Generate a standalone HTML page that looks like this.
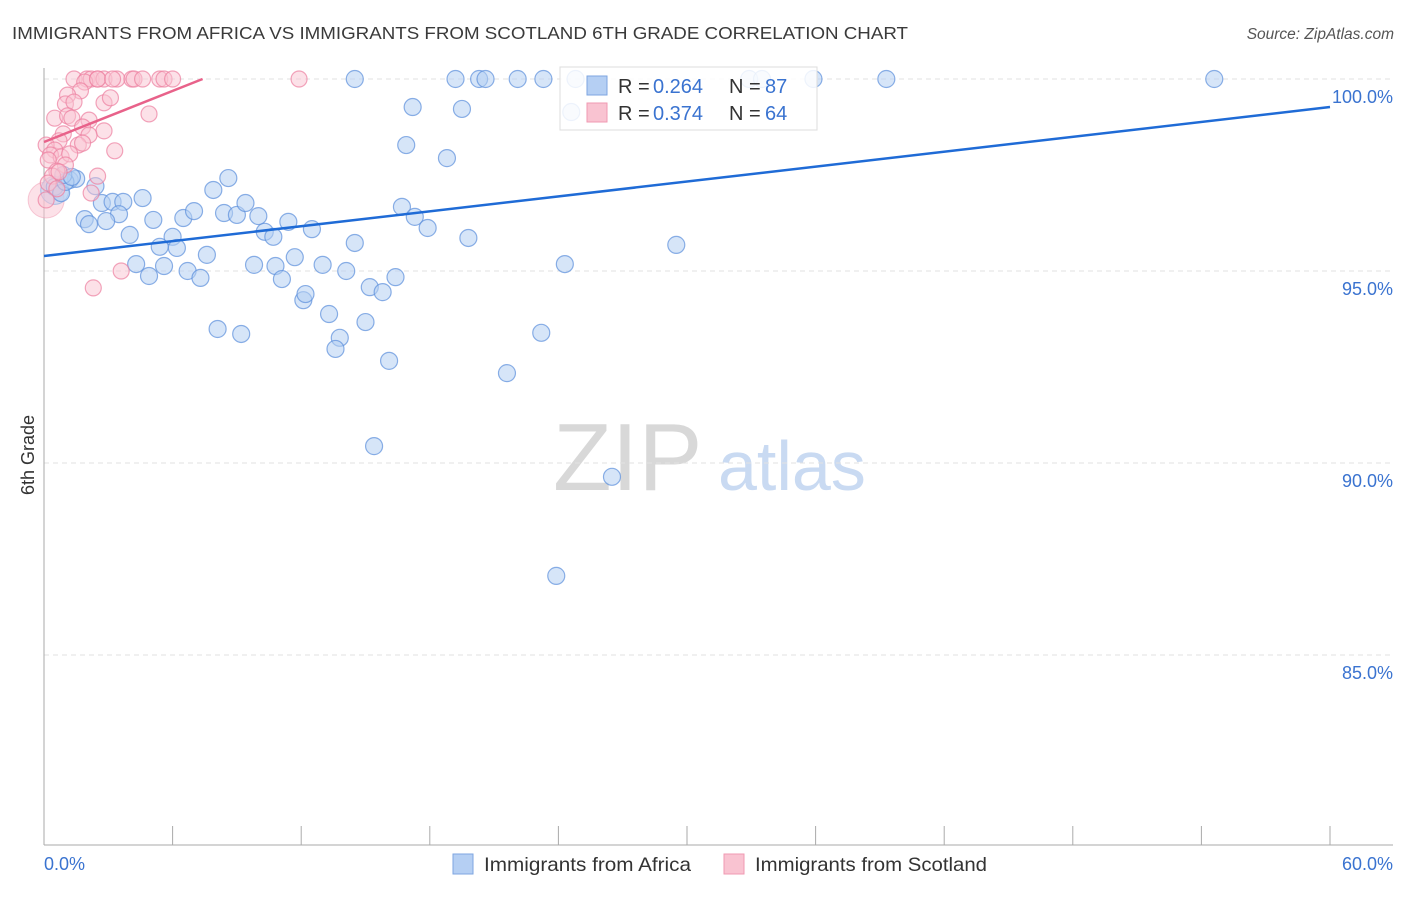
<!DOCTYPE html>
<html><head><meta charset="utf-8"><style>
body{margin:0;background:#fff;font-family:"Liberation Sans",sans-serif;}
svg text{font-family:"Liberation Sans",sans-serif;}
</style></head><body>
<svg id="chart" width="1406" height="892" xmlns="http://www.w3.org/2000/svg">
<text x="12" y="39" font-size="17.5" fill="#3a3a3a" textLength="896" lengthAdjust="spacingAndGlyphs">IMMIGRANTS FROM AFRICA VS IMMIGRANTS FROM SCOTLAND 6TH GRADE CORRELATION CHART</text>
<text x="1394" y="39" font-size="15.5" fill="#555" text-anchor="end" font-style="italic">Source: ZipAtlas.com</text>
<g>
<text x="553" y="490" font-size="96" fill="#d8d8d8" font-family="Liberation Serif,serif">ZIP</text>
<text x="718" y="490" font-size="70" fill="#c9daf2">atlas</text>
</g>
<g id="grid"></g>
<g id="axes"></g>
<g id="pts"></g>
<g id="trend"></g>
<text transform="translate(34,455) rotate(-90)" font-size="18" fill="#333" text-anchor="middle">6th Grade</text>
<g>
<rect x="560" y="67" width="257" height="63" fill="#fff" fill-opacity="0.85" stroke="#ddd"/>
<rect x="587" y="76" width="20" height="19" fill="#b5cff3" stroke="#7ea6e0"/>
<rect x="587" y="103" width="20" height="19" fill="#f9c3d1" stroke="#f09ab2"/>
<text x="618" y="93" font-size="20" fill="#333">R = </text><text x="653" y="93" font-size="20" fill="#3a73d0">0.264</text>
<text x="729" y="93" font-size="20" fill="#333">N = </text><text x="765" y="93" font-size="20" fill="#3a73d0">87</text>
<text x="618" y="120" font-size="20" fill="#333">R = </text><text x="653" y="120" font-size="20" fill="#3a73d0">0.374</text>
<text x="729" y="120" font-size="20" fill="#333">N = </text><text x="765" y="120" font-size="20" fill="#3a73d0">64</text>
</g>
<g>
<rect x="453" y="854" width="20" height="20" fill="#b5cff3" stroke="#7ea6e0"/>
<text x="484" y="871" font-size="19.5" fill="#333" textLength="207" lengthAdjust="spacingAndGlyphs">Immigrants from Africa</text>
<rect x="724" y="854" width="20" height="20" fill="#f9c3d1" stroke="#f09ab2"/>
<text x="755" y="871" font-size="19.5" fill="#333" textLength="232" lengthAdjust="spacingAndGlyphs">Immigrants from Scotland</text>
</g>
</svg>
<script>
const yTicks=[100,95,90,85];
const yTickLabels=["100.0%","95.0%","90.0%","85.0%"];
const xTickValues=[0,6,12,18,24,30,36,42,48,54,60];
const xEndLabels=["0.0%","60.0%"];
const africaX=[14.5,19.2,20.3,20.6,22.1,23.3,24.8,32.9,33.5,35.9,39.3,54.6,24.6,17.2,19.5,16.9,18.8,8.6,7.9,2.4,0.5,0.8,1.2,1.5,1.0,4.6,2.7,3.2,3.7,3.5,1.9,2.1,2.9,5.1,6.5,7.0,8.4,9.0,9.4,10.0,11.4,12.5,10.3,10.7,4.0,6.0,5.4,6.2,7.6,14.5,16.7,17.3,17.9,19.8,29.5,24.3,4.3,4.9,5.6,6.7,7.3,9.8,10.8,11.7,11.1,13.0,14.1,15.2,15.8,16.4,12.1,12.2,13.3,15.0,13.8,13.6,8.1,9.2,16.1,21.6,23.2,15.4,26.5,23.9,0.9,1.3];
const africaY=[100,100,100,100,100,100,100,100,100,100,100,100,99.14,99.27,99.22,98.28,97.94,97.42,97.11,97.21,97.19,97.03,97.37,97.40,97.32,96.90,96.77,96.80,96.80,96.48,96.35,96.22,96.30,96.33,96.38,96.56,96.51,96.46,96.77,96.43,96.28,96.09,96.02,95.89,95.94,95.89,95.63,95.60,95.42,95.73,96.67,96.41,96.12,95.86,95.68,95.18,95.18,94.87,95.13,95.0,94.82,95.16,95.13,95.36,94.79,95.16,95.0,94.58,94.45,94.84,94.24,94.40,93.88,93.67,93.26,92.97,93.49,93.36,92.66,92.34,93.39,90.44,89.64,87.06,97.50,97.45];
const scotX=[1.4,2.0,2.2,2.5,2.8,3.4,4.1,4.2,4.6,5.4,5.6,6.0,11.9,1.9,2.5,3.2,1.7,1.1,2.8,3.1,1.0,1.4,0.5,1.1,1.3,4.9,2.1,1.8,2.8,0.9,2.1,0.7,1.6,3.3,0.1,0.5,0.3,0.8,1.2,0.2,1.0,0.6,0.4,2.5,0.2,0.6,2.2,0.1,3.6,2.3,0.7,1.8];
const scotY=[100,100,100,100,100,100,100,100,100,100,100,100,100,99.92,100,100,99.69,99.58,99.38,99.51,99.35,99.4,98.98,99.04,98.98,99.09,98.93,98.75,98.65,98.57,98.54,98.39,98.28,98.13,98.28,98.15,98.02,97.97,98.05,97.89,97.76,97.6,97.47,97.47,97.29,97.14,97.03,96.85,95.0,94.56,97.58,98.33];
const africaTrendX=[0,60], africaTrendY=[95.39,99.27];
const scotTrendX=[0,7.4], scotTrendY=[98.36,100];
const NS="http://www.w3.org/2000/svg";
const X=v=>44+v*(1286/60);
const Y=v=>79+(100-v)*38.4;
function mk(tag,attrs,parent){const e=document.createElementNS(NS,tag);for(const k in attrs)e.setAttribute(k,attrs[k]);document.getElementById(parent).appendChild(e);return e;}
yTicks.forEach((t,i)=>{
 const l=mk('line',{x1:44,x2:1393,y1:Y(t),y2:Y(t),stroke:'#e2e2e2','stroke-dasharray':'5,4'},'grid');
 
 
 const tx=mk('text',{x:1393,y:Y(t)+24,'font-size':18,fill:'#3a73d0','text-anchor':'end'},'grid');
 tx.textContent=yTickLabels[i];
 
 
});
const ya=mk('line',{x1:44,x2:44,y1:68,y2:845,stroke:'#aaa'},'axes');


const xa=mk('line',{x1:44,x2:1393,y1:845,y2:845,stroke:'#aaa'},'axes');


xTickValues.forEach(t=>{
 const l=mk('line',{x1:X(t),x2:X(t),y1:826,y2:845,stroke:'#aaa'},'axes');
 
 
});
const xl0=mk('text',{x:44,y:870,'font-size':18,fill:'#3a73d0'},'axes');xl0.textContent=xEndLabels[0];


const xl1=mk('text',{x:1393,y:870,'font-size':18,fill:'#3a73d0','text-anchor':'end'},'axes');xl1.textContent=xEndLabels[1];


mk('circle',{cx:X(0.1),cy:Y(96.85),r:18,fill:'#f9c3d1','fill-opacity':0.5,stroke:'#f09ab2','stroke-opacity':0.5},'pts');
mk('circle',{cx:X(0.5),cy:Y(97.1),r:14,fill:'#b5cff3','fill-opacity':0.5,stroke:'#7ea6e0','stroke-opacity':0.6},'pts');
africaX.forEach((v,i)=>{
 const c=mk('circle',{cx:X(v),cy:Y(africaY[i]),r:8.5,fill:'#b5cff3','fill-opacity':0.55,stroke:'#5b8fdc','stroke-opacity':0.7,'stroke-width':1.2},'pts');
 
 
});
scotX.forEach((v,i)=>{
 const c=mk('circle',{cx:X(v),cy:Y(scotY[i]),r:8,fill:'#f9c3d1','fill-opacity':0.5,stroke:'#ec7fa0','stroke-opacity':0.7,'stroke-width':1.2},'pts');
 
 
});
const t1=mk('line',{x1:X(africaTrendX[0]),y1:Y(africaTrendY[0]),x2:X(africaTrendX[1]),y2:Y(africaTrendY[1]),stroke:'#1f6bd6','stroke-width':2.5},'trend');


const t2=mk('line',{x1:X(scotTrendX[0]),y1:Y(scotTrendY[0]),x2:X(scotTrendX[1]),y2:Y(scotTrendY[1]),stroke:'#e8628a','stroke-width':2.5},'trend');


</script>
</body></html>
